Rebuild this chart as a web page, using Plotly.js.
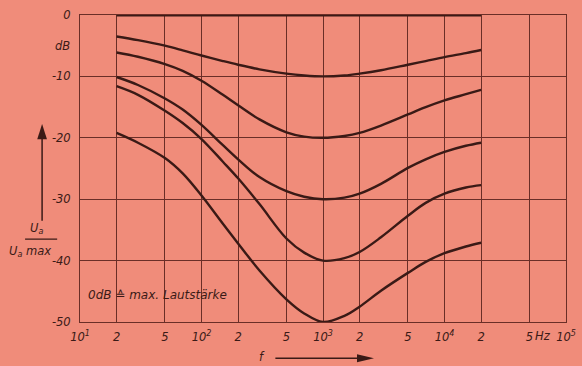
<!DOCTYPE html>
<html>
<head>
<meta charset="utf-8">
<script src="https://cdn.plot.ly/plotly-3.0.1.min.js"></script>
<style>html,body{margin:0;padding:0;background:#F08C7A;}#chart{width:582px;height:366px;}</style>
</head>
<body>
<div id="chart"></div>
<script>
// Frequencies (Hz) at which the curves were read
const freq = [20, 30, 50, 70, 100, 150, 200, 300, 500, 700, 1000, 1500, 2000, 3000, 5000, 7000, 10000, 15000, 20000];
// Relative output level U_a/U_a max (dB) for the six volume settings
const curve0 = [0, 0, 0, 0, 0, 0, 0, 0, 0, 0, 0, 0, 0, 0, 0, 0, 0, 0, 0];
const curve1 = [-3.5, -4.1, -5.0, -5.75, -6.6, -7.5, -8.1, -8.85, -9.55, -9.85, -10, -9.85, -9.55, -9.0, -8.1, -7.5, -6.85, -6.2, -5.7];
const curve2 = [-6.1, -6.8, -8.0, -9.1, -10.7, -13.0, -14.7, -17.0, -19.1, -19.8, -20, -19.7, -19.2, -18.0, -16.2, -15.0, -13.9, -12.9, -12.2];
const curve3 = [-10.1, -11.4, -13.6, -15.4, -17.9, -21.2, -23.5, -26.4, -28.7, -29.6, -30, -29.75, -29.1, -27.5, -24.9, -23.5, -22.3, -21.3, -20.8];
const curve4 = [-11.6, -13.0, -15.6, -17.6, -20.2, -23.9, -26.6, -30.8, -36.4, -38.7, -40, -39.6, -38.6, -36.2, -32.7, -30.6, -29.1, -28.1, -27.7];
const curve5 = [-19.2, -20.8, -23.3, -25.8, -29.4, -34.0, -37.2, -41.6, -46.3, -48.6, -50, -49.0, -47.5, -44.9, -42.0, -40.2, -38.8, -37.7, -37.1];

const xTickVals = [10, 20, 50, 100, 200, 500, 1000, 2000, 5000, 10000, 20000, 50000, 100000];
const xTickText = ["10<sup>1</sup>", "2", "5", "10<sup>2</sup>", "2", "5", "10<sup>3</sup>", "2", "5", "10<sup>4</sup>", "2", "5", "10<sup>5</sup>"];
const yTickVals = [0, -10, -20, -30, -40, -50];
const yTickText = ["0", "-10", "-20", "-30", "-40", "-50"];

const ink = '#3a1a16';
const gridC = '#6a2e27';
const bg = '#F08C7A';
const fontBase = {family: 'DejaVu Sans', size: 11.5, color: ink, style: 'italic'};
const fontNote = {family: 'DejaVu Sans', size: 12, color: ink, style: 'italic'};

const curves = [curve0, curve1, curve2, curve3, curve4, curve5];
const traces = curves.map((c, i) => ({
  x: freq, y: c, type: 'scatter', mode: 'lines',
  line: {color: ink, width: i === 0 ? 2.8 : 2.4, shape: 'spline', smoothing: 1},
  hoverinfo: 'skip', showlegend: false
}));

const layout = {
  width: 582, height: 366,
  margin: {l: 80, r: 16, t: 15, b: 44},
  paper_bgcolor: bg, plot_bgcolor: bg,
  font: fontBase,
  showlegend: false,
  xaxis: {
    type: 'log', range: [1, 5],
    tickvals: xTickVals, ticktext: xTickText,
    showgrid: true, gridcolor: gridC, gridwidth: 1,
    showline: true, mirror: true, linecolor: gridC, linewidth: 1,
    ticks: '', ticklabelstandoff: 4, zeroline: false,
    tickfont: fontBase
  },
  yaxis: {
    range: [-50, 0],
    tickvals: yTickVals, ticktext: yTickText,
    showgrid: true, gridcolor: gridC, gridwidth: 1,
    showline: true, mirror: true, linecolor: gridC, linewidth: 1,
    ticks: '', ticklabelstandoff: 6, zeroline: false,
    tickfont: fontBase
  },
  annotations: [
    {xref: 'paper', yref: 'paper', x: -0.036, y: 0.9, text: 'dB', showarrow: false, xanchor: 'center', yanchor: 'middle', font: fontBase},
    {xref: 'paper', yref: 'paper', x: 0.013, y: 0.087, text: '0dB \u2259 max. Lautst\u00e4rke', showarrow: false, xanchor: 'left', yanchor: 'middle', font: fontNote},
    {xref: 'paper', yref: 'paper', x: 0.953, y: -0.045, text: 'Hz', showarrow: false, xanchor: 'center', yanchor: 'middle', font: fontBase},
    // y axis label fraction
    {xref: 'paper', yref: 'paper', x: -0.09, y: 0.272, text: 'U<sub>a</sub>', showarrow: false, xanchor: 'center', yanchor: 'bottom', font: fontBase},
    {xref: 'paper', yref: 'paper', x: -0.102, y: 0.262, text: 'U<sub>a</sub> max', showarrow: false, xanchor: 'center', yanchor: 'top', font: fontBase},
    {xref: 'paper', yref: 'paper', x: 0.375, y: -0.115, text: 'f', showarrow: false, xanchor: 'center', yanchor: 'middle', font: fontBase}
  ],
  shapes: [
    // y arrow shaft and head
    {type: 'line', xref: 'paper', yref: 'paper', x0: -0.078, x1: -0.078, y0: 0.33, y1: 0.63, line: {color: ink, width: 1.5}},
    {type: 'path', xref: 'paper', yref: 'paper', path: 'M -0.078 0.645 L -0.088 0.595 L -0.068 0.595 Z', fillcolor: ink, line: {color: ink, width: 0}},
    // fraction bar
    {type: 'line', xref: 'paper', yref: 'paper', x0: -0.113, x1: -0.047, y0: 0.27, y1: 0.27, line: {color: ink, width: 1.2}},
    // f arrow
    {type: 'line', xref: 'paper', yref: 'paper', x0: 0.402, x1: 0.59, y0: -0.118, y1: -0.118, line: {color: ink, width: 1.5}},
    {type: 'path', xref: 'paper', yref: 'paper', path: 'M 0.605 -0.118 L 0.57 -0.105 L 0.57 -0.131 Z', fillcolor: ink, line: {color: ink, width: 0}}
  ]
};

Plotly.newPlot('chart', traces, layout, {staticPlot: true, displayModeBar: false});
</script>
</body>
</html>
